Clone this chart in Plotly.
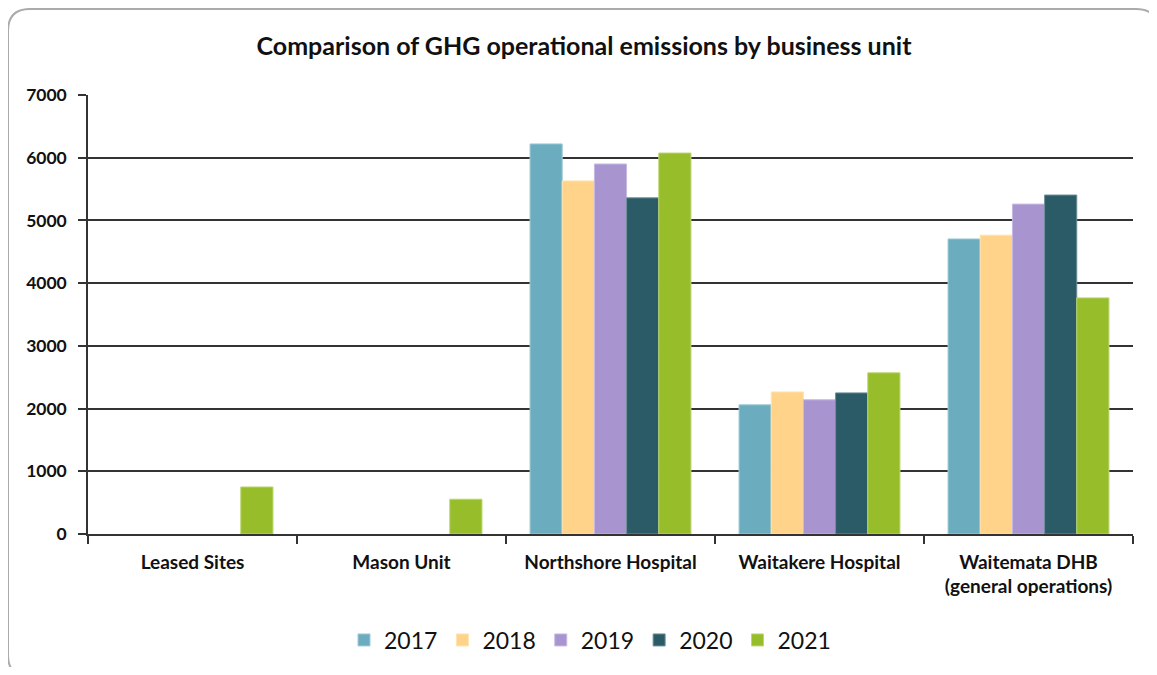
import plotly.graph_objects as go

categories = ["Leased Sites", "Mason Unit", "Northshore Hospital", "Waitakere Hospital",
              "Waitemata DHB<br>(general operations)"]
years = ["2017", "2018", "2019", "2020", "2021"]
v2017 = [None, None, 6220, 2060, 4705]
v2018 = [None, None, 5630, 2265, 4765]
v2019 = [None, None, 5900, 2140, 5260]
v2020 = [None, None, 5360, 2250, 5405]
v2021 = [750, 555, 6075, 2570, 3765]
colors = ["#6BADBF", "#FFD48A", "#A895D0", "#2C5B68", "#97BD2A"]
outline = ["#9FCBD7", "#FFE3B0", "#C6B9E2", "#6F8F98", "#BCD774"]

series = [v2017, v2018, v2019, v2020, v2021]

# page has an 8px body margin; figure coordinates are page coordinates minus 8
OFF = 8
W, H = 1157 - 2 * OFF, 675 - 2 * OFF
L, R, T, B = 88 - OFF, 1133 - OFF, 95 - OFF, 534 - OFF

fig = go.Figure()
for y, vals, c, oc in zip(years, series, colors, outline):
    fig.add_trace(go.Bar(name=y, x=categories, y=vals,
                         marker=dict(color=c, line=dict(color=oc, width=1))))

def px(x):
    return (x - OFF - L) / (R - L)

def py(y):
    return (B - (y - OFF)) / (B - T)

# rounded frame (page coordinates)
x0, y0, x1, y1, r = 8, 9, 1158, 677, 22
path = (f"M {px(x0+r)},{py(y0)} L {px(x1-r)},{py(y0)} "
        f"Q {px(x1)},{py(y0)} {px(x1)},{py(y0+r)} L {px(x1)},{py(y1-r)} "
        f"Q {px(x1)},{py(y1)} {px(x1-r)},{py(y1)} L {px(x0+r)},{py(y1)} "
        f"Q {px(x0)},{py(y1)} {px(x0)},{py(y1-r)} L {px(x0)},{py(y0+r)} "
        f"Q {px(x0)},{py(y0)} {px(x0+r)},{py(y0)} Z")
fig.add_shape(type="path", path=path, xref="paper", yref="paper",
              line=dict(color="#ABABAB", width=2), layer="below")

font = "Lato, 'Open Sans', sans-serif"
fig.update_layout(
    width=W, height=H,
    margin=dict(l=L, r=W - R, t=T, b=H - B, pad=0, autoexpand=False),
    paper_bgcolor="white", plot_bgcolor="white",
    barmode="group", bargap=0.23, bargroupgap=0,
    title=dict(text="<b>Comparison of GHG operational emissions by business unit</b>",
               x=(584 - OFF) / W, xanchor="center", y=1 - (46 - OFF) / H, yanchor="middle",
               font=dict(family=font, size=25, color="#111111")),
    font=dict(family=font, color="#111111"),
    showlegend=True,
    legend=dict(orientation="h", x=px(590), xanchor="center",
                yref="container", y=1 - (640 - OFF) / H, yanchor="middle",
                font=dict(size=23, color="#111111"), itemwidth=30, traceorder="normal",
                itemclick=False),
    xaxis=dict(type="category", tickson="boundaries", ticks="outside", ticklen=8,
               tickcolor="#333333", tickwidth=1.5, automargin=False,
               showline=True, linecolor="#333333", linewidth=1.5,
               tickfont=dict(family=font, size=19, color="#111111", weight="bold"),
               ticklabelstandoff=10, showgrid=False),
    yaxis=dict(range=[0, 7000], dtick=1000, ticks="outside", ticklen=8,
               tickcolor="#333333", tickwidth=1.5, automargin=False,
               showline=True, linecolor="#333333", linewidth=1.5,
               showgrid=True, gridcolor="#333333", gridwidth=1.5, zeroline=False,
               ticklabelstandoff=8,
               tickfont=dict(family=font, size=17.5, color="#111111", weight="bold")),
)

fig.write_html("out.html")
